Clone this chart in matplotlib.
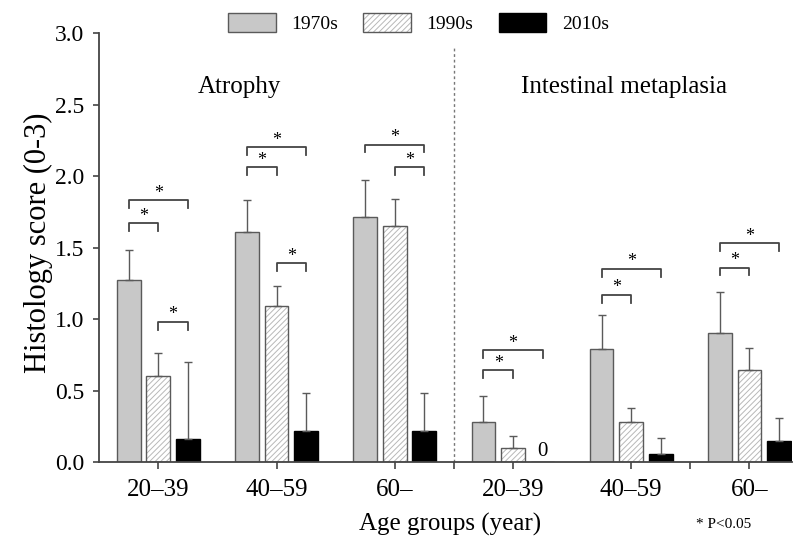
import numpy as np
import matplotlib
matplotlib.use("Agg")
from matplotlib import pyplot as plt
from matplotlib.patches import Patch

plt.rcParams['font.family'] = ['Liberation Serif', 'DejaVu Serif']
plt.rcParams['hatch.linewidth'] = 0.7

# age groups (atrophy then intestinal metaplasia)
age_groups = ['20\u201339', '40\u201359', '60\u2013', '20\u201339', '40\u201359', '60\u2013']
decades = ['1970s', '1990s', '2010s']

mean_1970 = [1.27, 1.61, 1.71, 0.28, 0.79, 0.90]
mean_1990 = [0.60, 1.09, 1.65, 0.10, 0.28, 0.64]
mean_2010 = [0.16, 0.22, 0.22, 0.00, 0.056, 0.15]

sd_1970 = [0.21, 0.22, 0.26, 0.18, 0.24, 0.29]
sd_1990 = [0.16, 0.14, 0.19, 0.08, 0.10, 0.16]
sd_2010 = [0.54, 0.26, 0.26, 0.00, 0.11, 0.16]

# significant pairs: (group, decade a, decade b, bracket height)
sig_pairs = [
    (0, 0, 2, 1.83), (0, 0, 1, 1.67), (0, 1, 2, 0.98),
    (1, 0, 2, 2.20), (1, 0, 1, 2.06), (1, 1, 2, 1.39),
    (2, 0, 2, 2.22), (2, 1, 2, 2.06),
    (3, 0, 2, 0.78), (3, 0, 1, 0.64),
    (4, 0, 2, 1.35), (4, 0, 1, 1.17),
    (5, 0, 2, 1.53), (5, 0, 1, 1.36),
]

edge = '#5a5a5a'
fig = plt.figure(figsize=(8, 5.44), dpi=100)
ax = fig.add_axes([0.124, 0.1507, 0.866, 0.7886])

x = np.arange(len(age_groups))
offsets = [-0.25, 0.0, 0.25]
width = 0.2

ax.bar(x + offsets[0], mean_1970, width, color='#c8c8c8', edgecolor=edge, linewidth=1)
ax.bar(x + offsets[1], mean_1990, width, color='white', edgecolor='#b8b8b8', hatch='//////', linewidth=0)
ax.bar(x + offsets[1], mean_1990, width, fill=False, edgecolor=edge, linewidth=1)
ax.bar(x + offsets[2], mean_2010, width, color='black', edgecolor='black', linewidth=1)

for off, m, s in zip(offsets, [mean_1970, mean_1990, mean_2010], [sd_1970, sd_1990, sd_2010]):
    m = np.array(m)
    s = np.array(s)
    keep = m > 0
    ax.errorbar(x[keep] + off, m[keep], yerr=[np.zeros(keep.sum()), s[keep]], fmt='none',
                ecolor=edge, elinewidth=1, capsize=3, capthick=1)

# zero label for 2010s, 20-39 intestinal metaplasia
ax.text(3 + offsets[2], 0.01, '0', ha='center', va='bottom', fontsize=15)

# significance brackets
drop = 0.055
for g, a, b, h in sig_pairs:
    xa = g + offsets[a]
    xb = g + offsets[b]
    ax.plot([xa, xa, xb, xb], [h - drop, h, h, h - drop], color='#444444', lw=1.3)
    ax.text((xa + xb) / 2, h - 0.01, '*', ha='center', va='bottom', fontsize=13)

ax.plot([2.5, 2.5], [0, 2.9], color='#777777', lw=1, ls=(0, (2, 2)))

ax.text(0.69, 2.62, 'Atrophy', ha='center', va='center', fontsize=18)
ax.text(3.94, 2.62, 'Intestinal metaplasia', ha='center', va='center', fontsize=18)

ax.set_xlim(-0.5, 5.36)
ax.set_ylim(0, 3.0)
ax.set_yticks(np.arange(0, 3.01, 0.5))
ax.set_yticklabels([f'{v:.1f}' for v in np.arange(0, 3.01, 0.5)])
ax.set_xticks(x)
ax.set_xticklabels(age_groups)
ax.set_xticks([2.5, 4.5], minor=True)
ax.tick_params(axis='x', which='both', length=5, width=1.2, color='#444444', labelsize=18, pad=7)
ax.tick_params(axis='y', length=4, width=1.2, color='#444444', labelsize=17, pad=7)

for side in ['top', 'right']:
    ax.spines[side].set_visible(False)
for side in ['left', 'bottom']:
    ax.spines[side].set_color('#444444')
    ax.spines[side].set_linewidth(1.3)

ax.set_ylabel('Histology score (0-3)', fontsize=22, va='center')
ax.yaxis.set_label_coords(-0.088, 0.51)
ax.set_xlabel('Age groups (year)', fontsize=18, va='center')
ax.xaxis.set_label_coords(0.506, -0.145)

fig.text(0.905, 1 - 525 / 544, '* P<0.05', ha='center', va='center', fontsize=11)

handles = [
    Patch(facecolor='#c8c8c8', edgecolor=edge),
    (Patch(facecolor='white', edgecolor='#b8b8b8', hatch='//////', linewidth=0),
     Patch(fill=False, edgecolor=edge)),
    Patch(facecolor='black', edgecolor='black'),
]
fig.legend(handles, decades, loc='upper center', bbox_to_anchor=(0.523, 1.008), ncol=3,
           frameon=False, fontsize=14, handlelength=2.45, handleheight=1.1,
           handletextpad=0.8, columnspacing=1.3)

plt.savefig('out.png', dpi=100)
plt.close(fig)
